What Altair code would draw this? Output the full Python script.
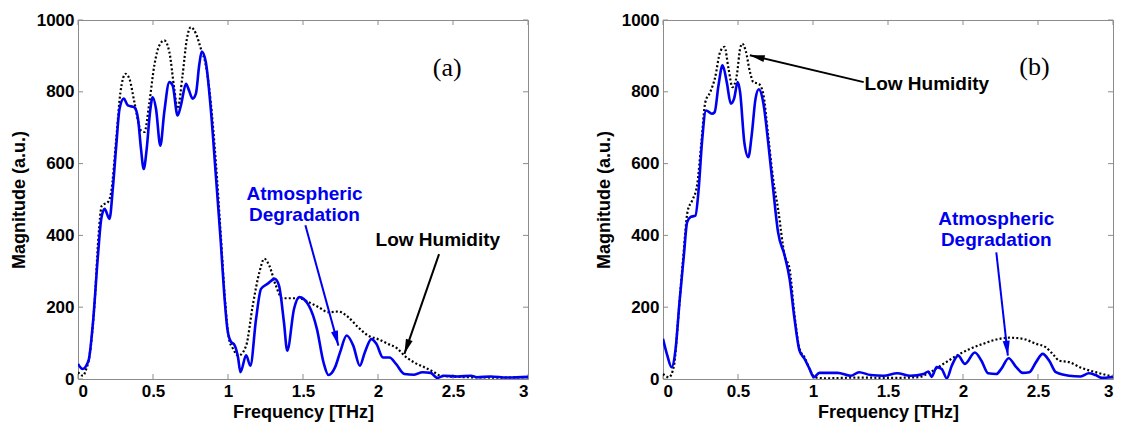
import math
import altair as alt
import pandas as pd

# ---------------- data ----------------
x_ticks = [0, 0.5, 1, 1.5, 2, 2.5, 3]
y_ticks = [0, 200, 400, 600, 800, 1000]

# Panel (a) - atmospheric degradation (blue, solid)
a_blue_f = [0.00, 0.03, 0.07, 0.10, 0.133, 0.155, 0.177, 0.21, 0.232, 0.255, 0.277, 0.305, 0.332, 0.376,
            0.40, 0.42, 0.438, 0.458, 0.48, 0.498, 0.52, 0.549, 0.575, 0.609, 0.631, 0.664, 0.686, 0.72,
            0.74, 0.764, 0.786, 0.808, 0.825, 0.852, 0.885, 0.919, 0.952, 0.974, 0.996, 1.018, 1.044,
            1.067, 1.083, 1.121, 1.149, 1.187, 1.22, 1.263, 1.312, 1.34, 1.373, 1.395, 1.44, 1.475, 1.538,
            1.593, 1.637, 1.67, 1.714, 1.747, 1.791, 1.835, 1.879, 1.912, 1.956, 1.989, 2.033, 2.077, 2.12,
            2.176, 2.242, 2.296, 2.351, 2.395, 2.44, 2.53, 2.62, 2.66, 2.75, 2.86, 3.0]
a_blue_m = [42, 28, 51, 158, 344, 446, 474, 446, 530, 650, 753, 781, 762, 757,
            725, 641, 585, 641, 743, 785, 753, 650, 743, 827, 818, 734, 762, 822,
            804, 781, 795, 874, 912, 883, 753, 567, 381, 242, 139, 105, 94,
            60, 19, 66, 37, 167, 251, 265, 279, 260, 158, 79, 195, 228, 205,
            139, 46, 11, 33, 74, 121, 93, 37, 74, 111, 98, 60, 60, 42,
            14, 12, 19, 17, 3, 9, 7, 9, 5, 7, 4, 6]

# Panel (a) - low humidity (black, dotted)
a_black_f = [0.00, 0.033, 0.055, 0.077, 0.111, 0.137, 0.159, 0.20, 0.221, 0.255, 0.283, 0.317, 0.343,
             0.376, 0.42, 0.443, 0.476, 0.509, 0.542, 0.575, 0.609, 0.642, 0.664, 0.697, 0.726, 0.752,
             0.786, 0.819, 0.852, 0.885, 0.919, 0.952, 0.978, 1.007, 1.034, 1.07, 1.121, 1.165, 1.209,
             1.242, 1.275, 1.319, 1.362, 1.472, 1.538, 1.604, 1.67, 1.736, 1.802, 1.868, 1.934, 2.0,
             2.066, 2.132, 2.176, 2.242, 2.308, 2.374, 2.418, 2.6, 2.8, 3.0]
a_black_m = [19, 9, 28, 65, 214, 400, 483, 493, 520, 669, 799, 850, 836,
             771, 692, 688, 771, 874, 929, 943, 911, 808, 753, 846, 948, 980,
             962, 920, 874, 771, 604, 400, 232, 111, 84, 65, 93, 205, 297,
             335, 316, 260, 225, 225, 214, 200, 186, 188, 172, 144, 121, 111,
             98, 84, 65, 46, 33, 19, 9, 5, 4, 5]

# Panel (b) - atmospheric degradation (blue, solid)
b_blue_f = [0.0, 0.029, 0.057, 0.084, 0.11, 0.139, 0.161, 0.183, 0.216, 0.238, 0.26, 0.287, 0.326, 0.344,
            0.37, 0.397, 0.425, 0.452, 0.474, 0.498, 0.514, 0.542, 0.569, 0.591, 0.617, 0.639, 0.668,
            0.701, 0.734, 0.767, 0.811, 0.844, 0.877, 0.91, 0.944, 0.977, 1.005, 1.042, 1.164, 1.252,
            1.307, 1.384, 1.472, 1.561, 1.649, 1.737, 1.77, 1.79, 1.825, 1.858, 1.892, 1.925, 1.968,
            2.013, 2.079, 2.123, 2.167, 2.222, 2.255, 2.304, 2.355, 2.398, 2.442, 2.487, 2.531, 2.575,
            2.619, 2.707, 2.784, 2.839, 2.884, 2.927, 2.983, 3.0]
b_blue_m = [112, 65, 33, 84, 214, 344, 437, 451, 455, 530, 660, 748, 739, 743,
            818, 874, 827, 767, 781, 827, 799, 660, 618, 678, 781, 807, 771,
            660, 530, 409, 344, 279, 167, 79, 56, 28, 5, 17, 17, 9,
            19, 11, 9, 16, 9, 14, 21, 6, 33, 28, 2, 37, 65,
            42, 74, 51, 16, 14, 28, 58, 33, 17, 19, 47, 70, 51,
            19, 9, 7, 16, 11, 3, 5, 6]

# Panel (b) - low humidity (black, dotted)
b_black_f = [0.0, 0.04, 0.073, 0.101, 0.132, 0.165, 0.194, 0.227, 0.256, 0.282, 0.315, 0.348, 0.381,
             0.41, 0.437, 0.463, 0.492, 0.514, 0.529, 0.551, 0.58, 0.602, 0.639, 0.668, 0.701, 0.734,
             0.767, 0.811, 0.844, 0.877, 0.91, 0.944, 0.977, 1.011, 1.08, 1.3, 1.5, 1.7, 1.781, 1.869,
             1.958, 2.046, 2.134, 2.222, 2.31, 2.398, 2.487, 2.553, 2.608, 2.641, 2.707, 2.795, 2.884,
             2.993]
b_black_m = [14, 5, 37, 167, 325, 469, 497, 539, 660, 771, 799, 841, 911,
             925, 864, 813, 846, 920, 934, 915, 855, 827, 822, 795, 678, 558,
             474, 344, 307, 177, 84, 60, 28, 5, 2, 4, 3, 5, 19, 42,
             65, 84, 98, 110, 115, 112, 98, 88, 65, 51, 47, 30, 19,
             7]

# Annotations: text
a_text = ["(a)", "Atmospheric", "Degradation", "Low Humidity"]
a_text_f = [2.461, 1.51, 1.51, 2.399]
a_text_m = [866, 516, 458, 387]
a_text_kind = ["label", "blue", "blue", "black"]

b_text = ["(b)", "Low Humidity", "Atmospheric", "Degradation"]
b_text_f = [2.476, 1.759, 2.222, 2.222]
b_text_m = [869, 822, 446, 386]
b_text_kind = ["label", "black", "blue", "blue"]

# Annotations: arrows (start -> tip)
a_arrow_f = [1.516, 2.407]
a_arrow_m = [428, 348]
a_arrow_f2 = [1.736, 2.176]
a_arrow_m2 = [93, 70]
a_arrow_kind = ["blue", "black"]

b_arrow_f = [1.338, 2.222]
b_arrow_m = [827, 353]
b_arrow_f2 = [0.579, 2.299]
b_arrow_m2 = [902, 65]
b_arrow_kind = ["black", "blue"]

# ---------------- styling ----------------
W, H = 450, 359
BLUE = "#0000F0"
SANS = "Liberation Sans"
SERIF = "Liberation Serif"
FRAME = "#8c8c8c"
COLORS = {"blue": BLUE, "black": "#000000", "label": "#000000"}

x_scale = alt.Scale(domain=[0, 3], nice=False)
y_scale = alt.Scale(domain=[0, 1000], nice=False)

x_axis = alt.Axis(values=x_ticks, format="~g", title="Frequency [THz]", grid=False, ticks=False,
                  domain=False, labelFont=SANS, labelFontWeight="bold", labelFontSize=17,
                  labelColor="black", labelPadding=4, titleFont=SANS, titleFontWeight="bold",
                  titleFontSize=18, titleColor="black", titlePadding=4)
y_axis = alt.Axis(values=y_ticks, format="d", title="Magnitude (a.u.)", grid=False, ticks=False,
                  domain=False, labelFont=SANS, labelFontWeight="bold", labelFontSize=17,
                  labelColor="black", labelPadding=4, titleFont=SANS, titleFontWeight="bold",
                  titleFontSize=18, titleColor="black", titlePadding=8)


def X(field="f"):
    return alt.X(f"{field}:Q", scale=x_scale, axis=x_axis)


def Y(field="m"):
    return alt.Y(f"{field}:Q", scale=y_scale, axis=y_axis)


ARROW_PATH = "M0,0 L-0.5,2.1 L0.5,2.1 Z"


def panel(blue_f, blue_m, black_f, black_m, t_text, t_f, t_m, t_kind,
          ar_f, ar_m, ar_f2, ar_m2, ar_kind):
    blue_df = pd.DataFrame({"f": blue_f, "m": blue_m})
    black_df = pd.DataFrame({"f": black_f, "m": black_m})

    blue_line = alt.Chart(blue_df).mark_line(color=BLUE, strokeWidth=2.6, interpolate="monotone",
                                             clip=True).encode(x=X(), y=Y())
    black_line = alt.Chart(black_df).mark_line(color="black", strokeWidth=2.2, strokeDash=[2, 2.2],
                                               interpolate="monotone", clip=True).encode(x=X(), y=Y())

    # inward MATLAB-style ticks on all four sides
    xt = pd.DataFrame({"f": x_ticks})
    yt = pd.DataFrame({"m": y_ticks})
    tick_style = dict(color=FRAME, strokeWidth=1)
    xt_bot = alt.Chart(xt).mark_rule(**tick_style).encode(x=X(), y=alt.value(H), y2=alt.value(H - 5))
    xt_top = alt.Chart(xt).mark_rule(**tick_style).encode(x=X(), y=alt.value(0), y2=alt.value(5))
    yt_l = alt.Chart(yt).mark_rule(**tick_style).encode(y=Y(), x=alt.value(0), x2=alt.value(5))
    yt_r = alt.Chart(yt).mark_rule(**tick_style).encode(y=Y(), x=alt.value(W - 5), x2=alt.value(W))

    # text annotations
    tdf = pd.DataFrame({"f": t_f, "m": t_m, "text": t_text,
                        "color": [COLORS[k] for k in t_kind], "kind": t_kind})
    sans_txt = alt.Chart(tdf[tdf.kind != "label"]).mark_text(
        font=SANS, fontWeight="bold", fontSize=19, baseline="middle", align="center"
    ).encode(x=X(), y=Y(), text="text:N", color=alt.Color("color:N", scale=None))
    serif_txt = alt.Chart(tdf[tdf.kind == "label"]).mark_text(
        font=SERIF, fontSize=26, baseline="middle", align="center", color="black"
    ).encode(x=X(), y=Y(), text="text:N")

    # arrows
    angles = []
    for f1, m1, f2, m2 in zip(ar_f, ar_m, ar_f2, ar_m2):
        dx = (f2 - f1) * W / 3.0
        dy = -(m2 - m1) * H / 1000.0
        angles.append(math.degrees(math.atan2(dx, -dy)) % 360)
    adf = pd.DataFrame({"f": ar_f, "m": ar_m, "f2": ar_f2, "m2": ar_m2,
                        "color": [COLORS[k] for k in ar_kind], "angle": angles})
    shafts = alt.Chart(adf).mark_rule(strokeWidth=2).encode(
        x=X(), y=Y(), x2="f2:Q", y2="m2:Q", color=alt.Color("color:N", scale=None))
    heads = alt.Chart(adf).mark_point(shape=ARROW_PATH, filled=True, size=200, opacity=1,
                                      strokeWidth=0).encode(
        x=X("f2"), y=Y("m2"), angle=alt.Angle("angle:Q", scale=None),
        color=alt.Color("color:N", scale=None))

    return alt.layer(xt_bot, xt_top, yt_l, yt_r, black_line, blue_line,
                     shafts, heads, sans_txt, serif_txt).properties(width=W, height=H)


left = panel(a_blue_f, a_blue_m, a_black_f, a_black_m, a_text, a_text_f, a_text_m, a_text_kind,
             a_arrow_f, a_arrow_m, a_arrow_f2, a_arrow_m2, a_arrow_kind)
right = panel(b_blue_f, b_blue_m, b_black_f, b_black_m, b_text, b_text_f, b_text_m, b_text_kind,
              b_arrow_f, b_arrow_m, b_arrow_f2, b_arrow_m2, b_arrow_kind)

chart = alt.hconcat(left, right, spacing=65).properties(
    padding={"left": 1, "top": 2, "right": 0, "bottom": 0},
    background="white",
).configure_view(stroke=FRAME, strokeWidth=1)

chart.save("out.html", embed_options={"renderer": "svg", "actions": False})
